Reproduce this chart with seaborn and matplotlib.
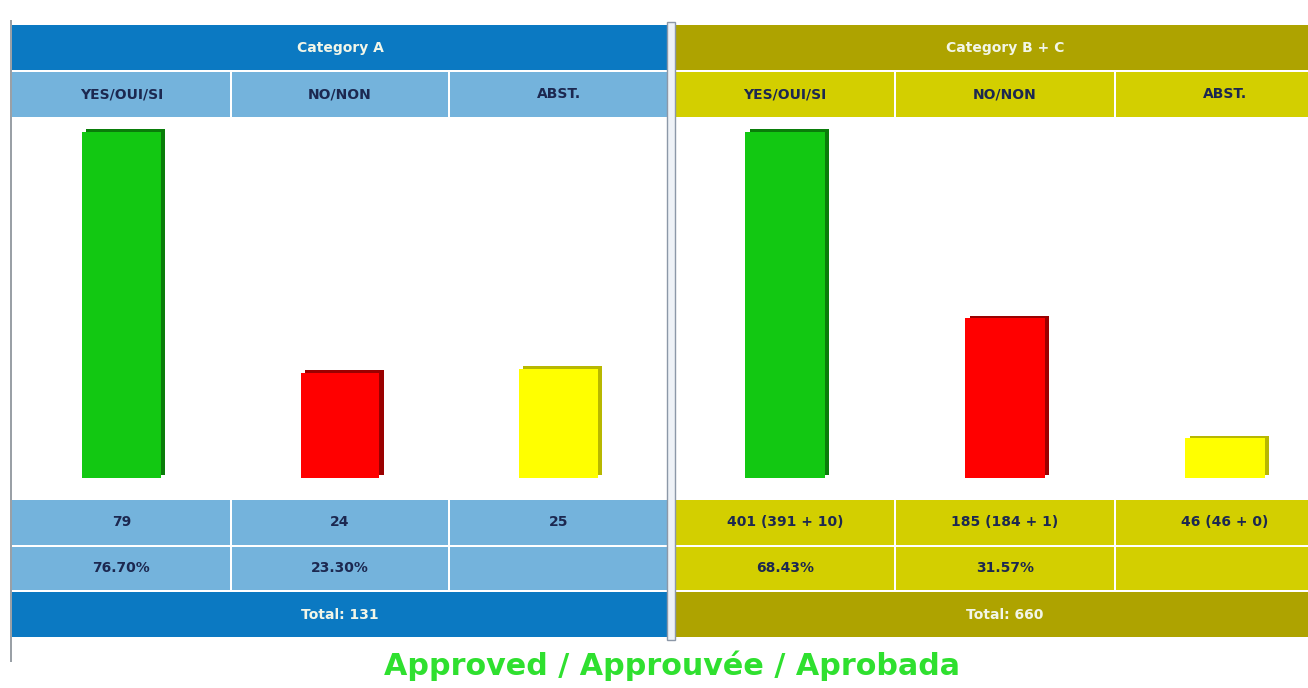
import matplotlib
matplotlib.use("Agg")
import matplotlib.pyplot as plt
import matplotlib.patheffects as pe
from matplotlib.patches import Rectangle
import seaborn as sns
import pandas as pd

# ---- data ----
categories = ["YES/OUI/SI", "NO/NON", "ABST."]
votes_a = [79, 24, 25]
votes_bc = [401, 185, 46]
labels_a = ["79", "24", "25"]
labels_bc = ["401 (391 + 10)", "185 (184 + 1)", "46 (46 + 0)"]
pct_a = ["76.70%", "23.30%", ""]
pct_bc = ["68.43%", "31.57%", ""]
title_a = "Category A"
title_bc = "Category B + C"
total_a = "Total: 131"
total_bc = "Total: 660"
result_text = "Approved / Approuvée / Aprobada"

bar_colors = ["#12c812", "#ff0000", "#ffff00"]
side_colors = ["#0a7d0a", "#9a0000", "#b8b800"]

W, H = 1308, 688
sns.set_theme(style="white")
plt.rcParams["font.family"] = ["DejaVu Sans"]
fig = plt.figure(figsize=(W / 100, H / 100), dpi=100)
fig.patch.set_facecolor("white")


def fx(px):
    return px / W


def fy(py):
    return 1 - py / H


def rect(x0, y0, x1, y1, color, ec="none", lw=0):
    fig.add_artist(Rectangle((fx(x0), fy(y1)), fx(x1) - fx(x0), fy(y0) - fy(y1),
                             transform=fig.transFigure, facecolor=color,
                             edgecolor=ec, linewidth=lw, zorder=0))


def txt(x, y, s, color, size=10, weight="bold"):
    fig.text(fx(x), fy(y), s, ha="center", va="center", color=color,
             fontsize=size, fontweight=weight)


def panel(x0, cw, dark, light, title, labels, pcts, total, values):
    x1 = x0 + 3 * cw
    navy = "#1c2850"
    # header
    rect(x0, 25, x1, 70, dark)
    txt((x0 + x1) / 2, 48, title, "#f2f6e8", 10)
    rows = [(72, 117, categories), (500, 545, labels), (547, 590, pcts)]
    for (ya, yb, texts) in rows:
        for i in range(3):
            cx0 = x0 + i * cw + (1 if i > 0 else 0)
            cx1 = x0 + (i + 1) * cw - (1 if i < 2 else 0)
            rect(cx0, ya, cx1, yb, light)
            txt(x0 + (i + 0.5) * cw, (ya + yb) / 2, texts[i], navy, 10)
    rect(x0, 592, x1, 637, dark)
    txt((x0 + x1) / 2, 615, total, "#f2f6e8", 10)

    # bar area
    ax = fig.add_axes([fx(x0), fy(478), fx(x1) - fx(x0), fy(117) - fy(478)])
    df = pd.DataFrame({"cat": categories, "val": values})
    sns.barplot(data=df, x="cat", y="val", hue="cat", palette=bar_colors,
                legend=False, width=0.36, ax=ax, saturation=1)
    for p, sc in zip(ax.patches, side_colors):
        p.set_edgecolor("none")
        p.set_path_effects([pe.SimplePatchShadow(offset=(3, 2),
                                                 shadow_rgbFace=sc, alpha=1),
                            pe.Normal()])
    ax.set_ylim(0, max(values) * 361 / 346)
    ax.set_xlim(-0.5, 2.5)
    ax.axis("off")
    ax.set_facecolor("white")
    return ax


panel(12, (668 - 12) / 3, "#0b79c2", "#74b3dc", title_a, labels_a, pct_a,
      total_a, votes_a)
panel(675, 220, "#aea300", "#d3cf00", title_bc, labels_bc, pct_bc,
      total_bc, votes_bc)

# separator between panels
rect(667, 22, 675, 640, "#eef2f7", ec="#8c98a8", lw=1)
# left thin border line
rect(10, 20, 12, 662, "#9aa0a6")

fig.text(fx(672), fy(666), result_text, ha="center", va="center",
         color="#2fe02f", fontsize=21.7, fontweight="bold")

fig.savefig("out.png", dpi=100, facecolor="white")
